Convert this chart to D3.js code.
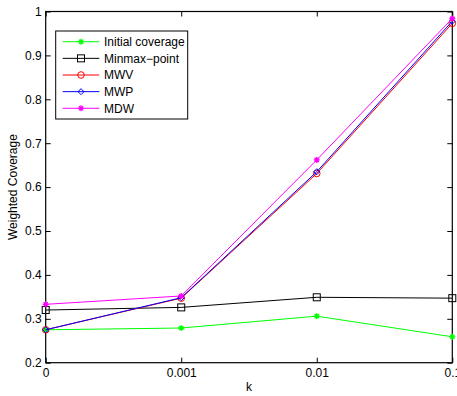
<!DOCTYPE html>
<html>
<head>
<meta charset="utf-8">
<script src="https://cdn.jsdelivr.net/npm/d3@7"></script>
<style>
  html, body { margin: 0; padding: 0; background: #fff; }
  svg { display: block; font-family: "Liberation Sans", Arial, sans-serif; }
</style>
</head>
<body>
<svg id="chart" width="457" height="396"></svg>
<script>
// k values on the x axis (equally spaced categories)
const kLabels = ["0", "0.001", "0.01", "0.1"];
const yTicks = [0.2, 0.3, 0.4, 0.5, 0.6, 0.7, 0.8, 0.9, 1];

// Weighted coverage per method
const initialCoverage = [0.275, 0.279, 0.306, 0.259];
const minmaxPoint     = [0.320, 0.326, 0.349, 0.347];
const mwv             = [0.275, 0.347, 0.631, 0.973];
const mwp             = [0.275, 0.348, 0.635, 0.978];
const mdw             = [0.333, 0.352, 0.662, 0.984];

const seriesNames  = ["Initial coverage", "Minmax\u2212point", "MWV", "MWP", "MDW"];
const seriesValues = [initialCoverage, minmaxPoint, mwv, mwp, mdw];
const seriesColors = ["#00ff00", "#000000", "#ff0000", "#0000ff", "#ff00ff"];
const seriesMarkers = ["star", "square", "circle", "diamond", "star"];

const svg = d3.select("#chart");
const plotL = 45.7, plotR = 452.3, plotT = 11.5, plotB = 362.7;

const x = d3.scalePoint().domain(kLabels).range([plotL, plotR]).padding(0);
const y = d3.scaleLinear().domain([0.2, 1]).range([plotB, plotT]);

// axes box
svg.append("rect")
  .attr("x", plotL).attr("y", plotT)
  .attr("width", plotR - plotL).attr("height", plotB - plotT)
  .attr("fill", "none").attr("stroke", "#000").attr("stroke-width", 1.2);

const tickLen = 5;
const axisFont = 12;

// bottom and top ticks (inward)
const xAxisBottom = d3.axisBottom(x).tickSizeInner(-tickLen).tickSizeOuter(0).tickPadding(6);
const gx = svg.append("g").attr("transform", `translate(0,${plotB})`).call(xAxisBottom);
gx.select(".domain").remove();
gx.selectAll("text").attr("font-size", axisFont).attr("fill", "#000")
  .attr("font-family", "Liberation Sans, Arial, sans-serif");

const xAxisTop = d3.axisTop(x).tickSizeInner(-tickLen).tickSizeOuter(0).tickFormat("");
const gxt = svg.append("g").attr("transform", `translate(0,${plotT})`).call(xAxisTop);
gxt.select(".domain").remove();

// left and right ticks (inward)
const yAxisLeft = d3.axisLeft(y).tickValues(yTicks).tickSizeInner(-tickLen).tickSizeOuter(0)
  .tickPadding(4).tickFormat(d => d3.format("")(+d.toFixed(1)));
const gy = svg.append("g").attr("transform", `translate(${plotL},0)`).call(yAxisLeft);
gy.select(".domain").remove();
gy.selectAll("text").attr("font-size", axisFont).attr("fill", "#000")
  .attr("font-family", "Liberation Sans, Arial, sans-serif");

const yAxisRight = d3.axisRight(y).tickValues(yTicks).tickSizeInner(-tickLen).tickSizeOuter(0).tickFormat("");
const gyr = svg.append("g").attr("transform", `translate(${plotR},0)`).call(yAxisRight);
gyr.select(".domain").remove();

svg.selectAll(".tick line").attr("stroke", "#000").attr("stroke-width", 1);

// axis titles
svg.append("text").attr("x", (plotL + plotR) / 2).attr("y", 391)
  .attr("text-anchor", "middle").attr("font-size", 12).text("k");
svg.append("text")
  .attr("transform", `translate(17,${(plotT + plotB) / 2}) rotate(-90)`)
  .attr("text-anchor", "middle").attr("font-size", 12).text("Weighted Coverage");

// marker drawing helper
function drawMarker(g, type, cx, cy, color) {
  if (type === "square") {
    g.append("rect").attr("x", cx - 3.5).attr("y", cy - 3.5).attr("width", 7).attr("height", 7)
      .attr("fill", "none").attr("stroke", color).attr("stroke-width", 1);
  } else if (type === "circle") {
    g.append("circle").attr("cx", cx).attr("cy", cy).attr("r", 3.3)
      .attr("fill", "none").attr("stroke", color).attr("stroke-width", 1);
  } else if (type === "diamond") {
    const r = 3;
    g.append("path").attr("d", `M${cx},${cy - r}L${cx + r},${cy}L${cx},${cy + r}L${cx - r},${cy}Z`)
      .attr("fill", "none").attr("stroke", color).attr("stroke-width", 1);
  } else if (type === "star") {
    const r = 3;
    const d = `M${cx - r},${cy}L${cx + r},${cy}M${cx},${cy - r}L${cx},${cy + r}` +
      `M${cx - r * 0.7},${cy - r * 0.7}L${cx + r * 0.7},${cy + r * 0.7}` +
      `M${cx - r * 0.7},${cy + r * 0.7}L${cx + r * 0.7},${cy - r * 0.7}`;
    g.append("path").attr("d", d).attr("fill", "none").attr("stroke", color).attr("stroke-width", 1.3);
  }
}

const line = d3.line().x((d, i) => x(kLabels[i])).y(d => y(d));

seriesValues.forEach((vals, si) => {
  const g = svg.append("g");
  g.append("path").datum(vals).attr("d", line)
    .attr("fill", "none").attr("stroke", seriesColors[si]).attr("stroke-width", 1);
  vals.forEach((v, i) => drawMarker(g, seriesMarkers[si], x(kLabels[i]), y(v), seriesColors[si]));
});

// legend
const lg = svg.append("g");
lg.append("rect").attr("x", 55.7).attr("y", 31).attr("width", 132).attr("height", 88)
  .attr("fill", "#fff").attr("stroke", "#000").attr("stroke-width", 1);
seriesNames.forEach((name, i) => {
  const ly = 41.7 + i * 16.65;
  lg.append("line").attr("x1", 62.7).attr("x2", 99.3).attr("y1", ly).attr("y2", ly)
    .attr("stroke", seriesColors[i]).attr("stroke-width", 1);
  drawMarker(lg, seriesMarkers[i], 81, ly, seriesColors[i]);
  lg.append("text").attr("x", 104).attr("y", ly + 4.3).attr("font-size", 12).text(name);
});
</script>
</body>
</html>
